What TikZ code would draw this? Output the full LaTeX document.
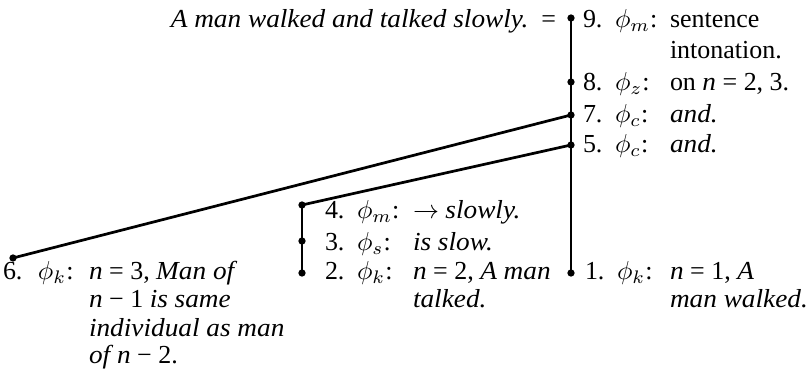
\documentclass[tikz,border=0pt]{standalone}
\usepackage{fontspec}
\setmainfont[ItalicFeatures={FakeStretch=1.05}]{Liberation Serif}
\begin{document}
\begin{tikzpicture}[x=0.385pt,y=-0.385pt,
  every node/.style={inner sep=0pt,outer sep=0pt},
  txt/.style={anchor=base west,font=\fontsize{10}{12}\selectfont},
  dot/.style={circle,fill=black,inner sep=0pt,minimum size=2.8pt},
  link/.style={line width=1.05pt}]
\useasboundingbox (0,0) rectangle (810,383);
% dots
\node[dot] (d9) at (571,18) {};
\node[dot] (d8) at (571,82) {};
\node[dot] (d7) at (571,115) {};
\node[dot] (d5) at (571,145) {};
\node[dot] (d1) at (571,273) {};
\node[dot] (d4) at (302,205) {};
\node[dot] (d3) at (302,241) {};
\node[dot] (d2) at (302,273) {};
\node[dot] (d6) at (13,258) {};
% connectors
\draw[link] (d9.center) -- (d1.center);
\draw[link] (d7.center) -- (d6.center);
\draw[link] (d5.center) -- (d4.center);
\draw[link] (d4.center) -- (d2.center);
% header
\node[txt,anchor=base east] (hdr) at (556,28) {\textit{A man walked and talked slowly.}\ \ =};
% 9
\node[txt] (n9) at (583,28) {9.};
\node[txt] (p9) at (615,28) {$\phi_m$:};
\node[txt] (t9) at (670,28) {sentence};
\node[txt] (t9b) at (670,59) {intonation.};
% 8
\node[txt] (n8) at (583,91) {8.};
\node[txt] (p8) at (615,91) {$\phi_z$:};
\node[txt] (t8) at (670,91) {on \textit{n} = 2, 3.};
% 7
\node[txt] (n7) at (583,123) {7.};
\node[txt] (p7) at (615,123) {$\phi_c$:};
\node[txt] (t7) at (670,123) {\textit{and.}};
% 5
\node[txt] (n5) at (583,153) {5.};
\node[txt] (p5) at (615,153) {$\phi_c$:};
\node[txt] (t5) at (670,153) {\textit{and.}};
% 4
\node[txt] (n4) at (325,219) {4.};
\node[txt] (p4) at (357,219) {$\phi_m$:};
\node[txt] (t4) at (413,219) {$\rightarrow$ \textit{slowly.}};
% 3
\node[txt] (n3) at (325,251) {3.};
\node[txt] (p3) at (357,251) {$\phi_s$:};
\node[txt] (t3) at (413,251) {\textit{is slow.}};
% 2
\node[txt] (n2) at (325,280) {2.};
\node[txt] (p2) at (357,280) {$\phi_k$:};
\node[txt] (t2) at (413,280) {\textit{n} = 2, \textit{A man}};
\node[txt] (t2b) at (413,308) {\textit{talked.}};
% 1
\node[txt] (n1) at (585,280) {1.};
\node[txt] (p1) at (617,280) {$\phi_k$:};
\node[txt] (t1) at (670,280) {\textit{n} = 1, \textit{A}};
\node[txt] (t1b) at (670,308) {\textit{man walked.}};
% 6
\node[txt] (n6) at (3,280) {6.};
\node[txt] (p6) at (38,280) {$\phi_k$:};
\node[txt] (t6) at (89,280) {\textit{n} = 3, \textit{Man of}};
\node[txt] (t6b) at (89,308) {\textit{n} − 1 \textit{is same}};
\node[txt] (t6c) at (89,336) {\textit{individual as man}};
\node[txt] (t6d) at (89,363) {\textit{of n} − 2.};
\end{tikzpicture}
\end{document}
